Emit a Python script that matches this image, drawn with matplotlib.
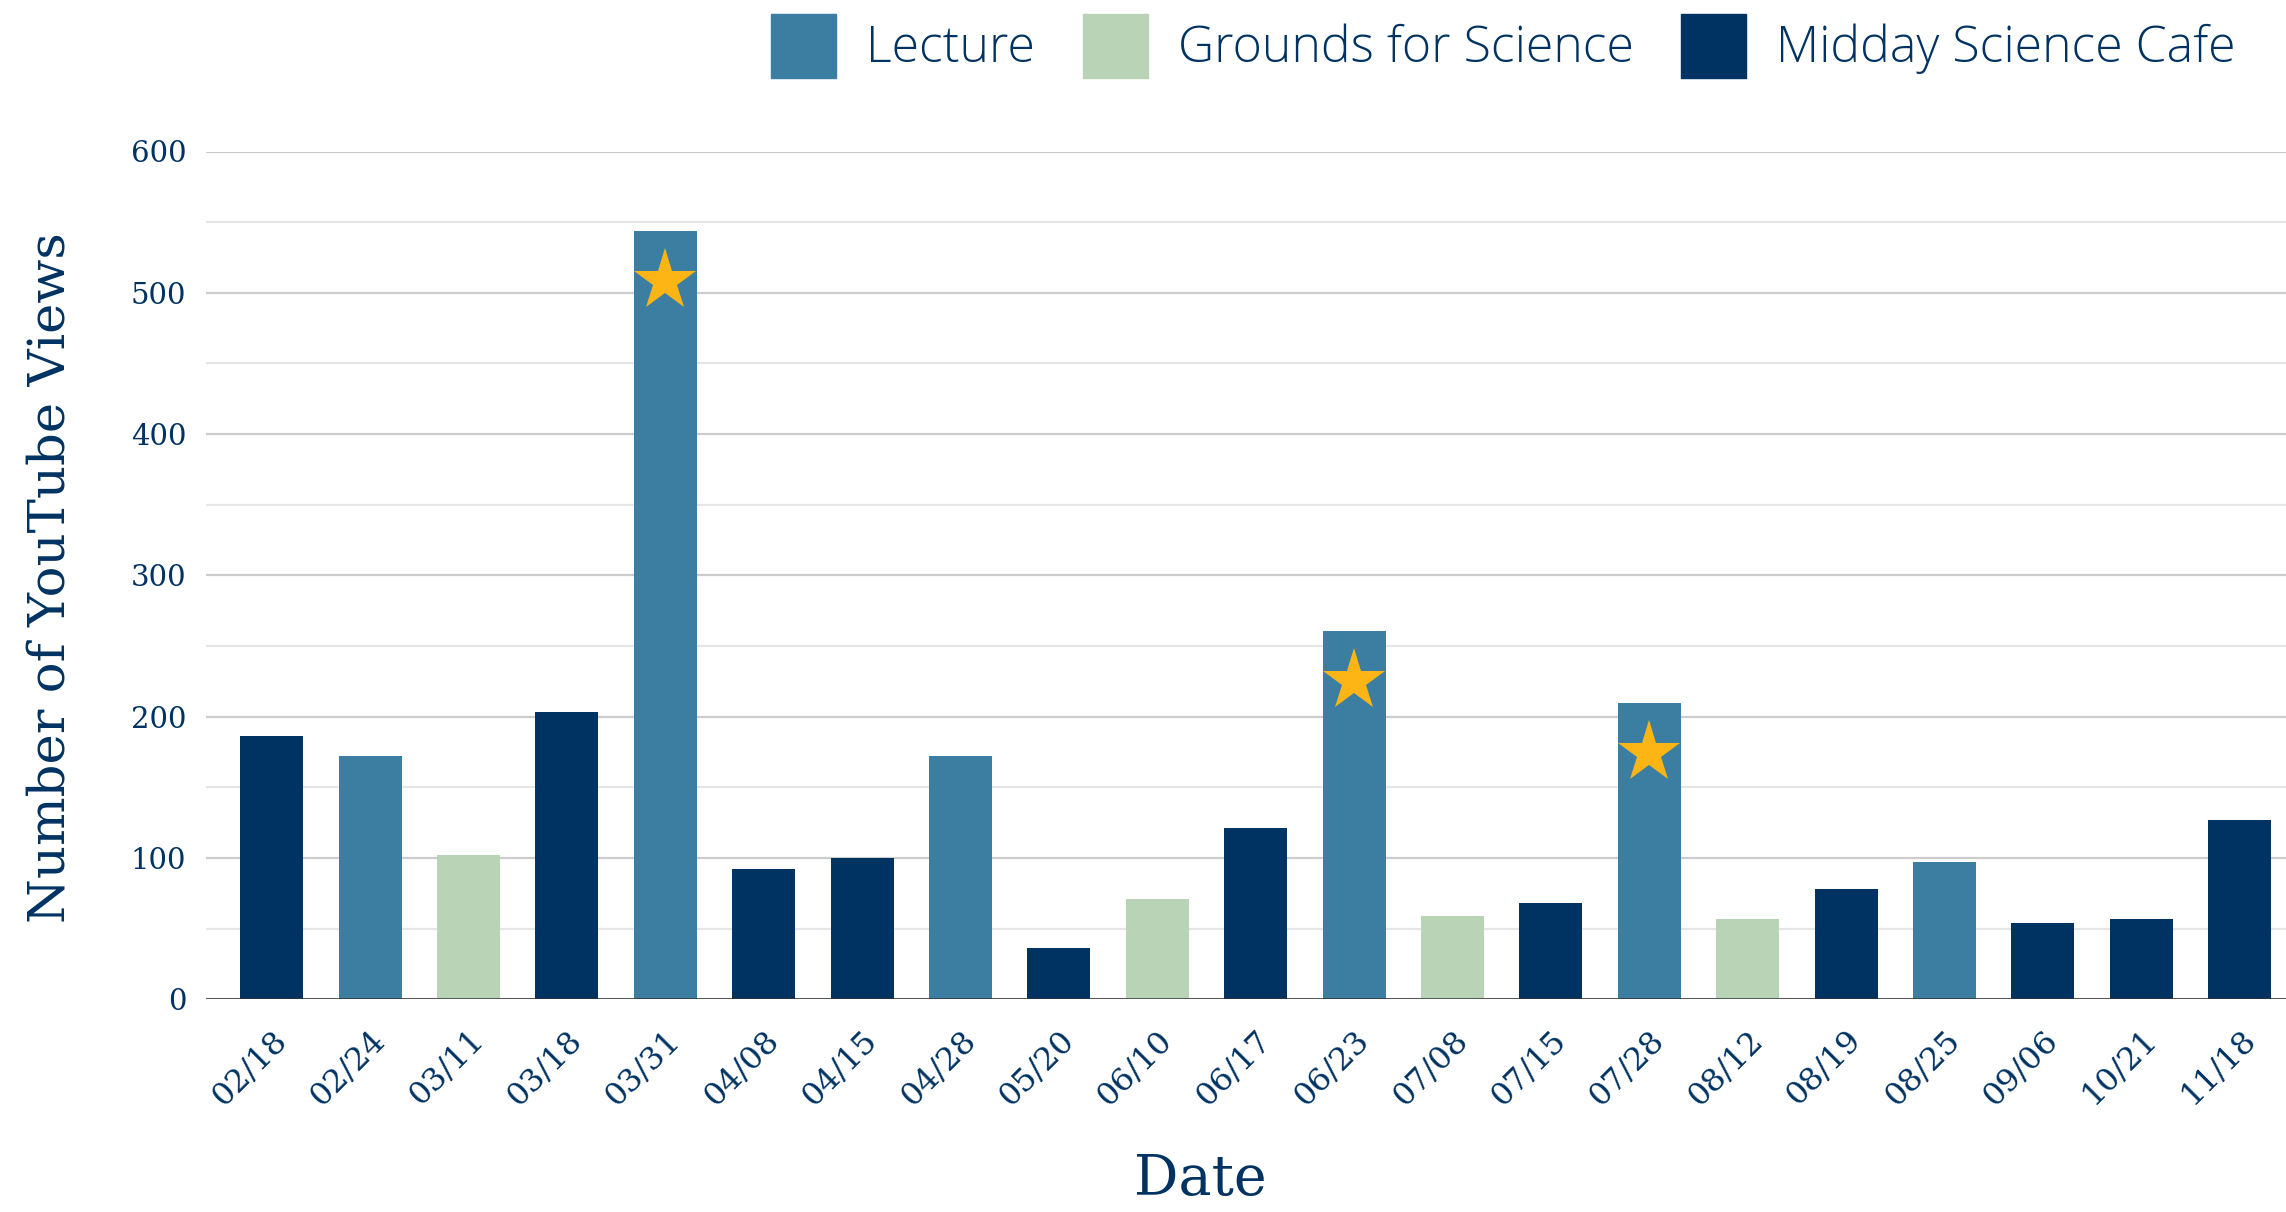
import matplotlib
matplotlib.use('Agg')
import matplotlib.pyplot as plt
import matplotlib.transforms as mtrans
from matplotlib.patches import Patch

dates = ['02/18', '02/24', '03/11', '03/18', '03/31', '04/08', '04/15',
         '04/28', '05/20', '06/10', '06/17', '06/23', '07/08', '07/15',
         '07/28', '08/12', '08/19', '08/25', '09/06', '10/21', '11/18']
views = [186, 172, 102, 203, 544, 92, 100, 172, 36, 71, 121, 261, 59, 68,
         210, 57, 78, 97, 54, 57, 127]
kinds = ['Midday', 'Lecture', 'Grounds', 'Midday', 'Lecture', 'Midday',
         'Midday', 'Lecture', 'Midday', 'Grounds', 'Midday', 'Lecture',
         'Grounds', 'Midday', 'Lecture', 'Grounds', 'Midday', 'Lecture',
         'Midday', 'Midday', 'Midday']
starred = ['03/31', '06/23', '07/28']
legend_labels = ['Lecture', 'Grounds for Science', 'Midday Science Cafe']
legend_kinds = ['Lecture', 'Grounds', 'Midday']

navy = '#003262'
colors = {'Lecture': '#3b7ea1', 'Grounds': '#b9d3b6', 'Midday': '#003262'}
gold = '#fdb515'
serif = 'DejaVu Serif'

fig = plt.figure(figsize=(22.86, 12.12), dpi=100)
ax = fig.add_axes([0.09, 0.1755, 0.91, 0.6995])

x = list(range(len(dates)))
ax.bar(x, views, width=0.64, color=[colors[k] for k in kinds], zorder=3)

# stars sit a bit below the top of the highlighted bars
sx = [i for i, d in enumerate(dates) if d in starred]
sy = [views[i] - 36 for i in sx]
ax.plot(sx, sy, linestyle='none', marker='*', ms=47, color=gold,
        mec=gold, mew=0, zorder=4)

ax.set_xlim(-0.67, len(dates) - 0.53)
ax.set_ylim(0, 600)
ax.set_yticks(range(0, 601, 100))
ax.set_yticks(range(50, 600, 100), minor=True)
ax.grid(axis='y', which='major', color='#cccccc', lw=1.6, zorder=0)
ax.grid(axis='y', which='minor', color='#e6e6e6', lw=1.6, zorder=0)
ax.axhline(0, color='#333333', lw=1.8, zorder=5)
for s in ax.spines.values():
    s.set_visible(False)
ax.tick_params(axis='both', which='both', length=0)
ax.tick_params(axis='y', pad=14, labelsize=21, labelcolor=navy)
ax.tick_params(axis='x', pad=18, labelsize=23, labelcolor=navy)
for lab in ax.get_yticklabels():
    lab.set_family(serif)

ax.set_xticks(x)
ax.set_xticklabels(dates, rotation=45, ha='right', family=serif)
offset = mtrans.ScaledTranslation(0.22, 0, fig.dpi_scale_trans)
for lab in ax.get_xticklabels():
    lab.set_transform(lab.get_transform() + offset)

fig.text(0.022, 0.523, 'Number of YouTube Views', rotation=90, ha='center',
         va='center', fontsize=37, color=navy, family=serif)
fig.text(0.525, 0.027, 'Date', ha='center', va='center', fontsize=40,
         color=navy, family=serif)

handles = [Patch(color=colors[k]) for k in legend_kinds]
fig.legend(handles, legend_labels, loc='center right',
           bbox_to_anchor=(0.978, 0.962), ncol=3, frameon=False,
           prop={'family': 'Open Sans', 'weight': 'light', 'size': 36},
           labelcolor=navy, handlelength=1.3, handleheight=1.6,
           handletextpad=0.6, columnspacing=0.95, borderpad=0,
           borderaxespad=0)

fig.savefig('out.png', dpi=100)
